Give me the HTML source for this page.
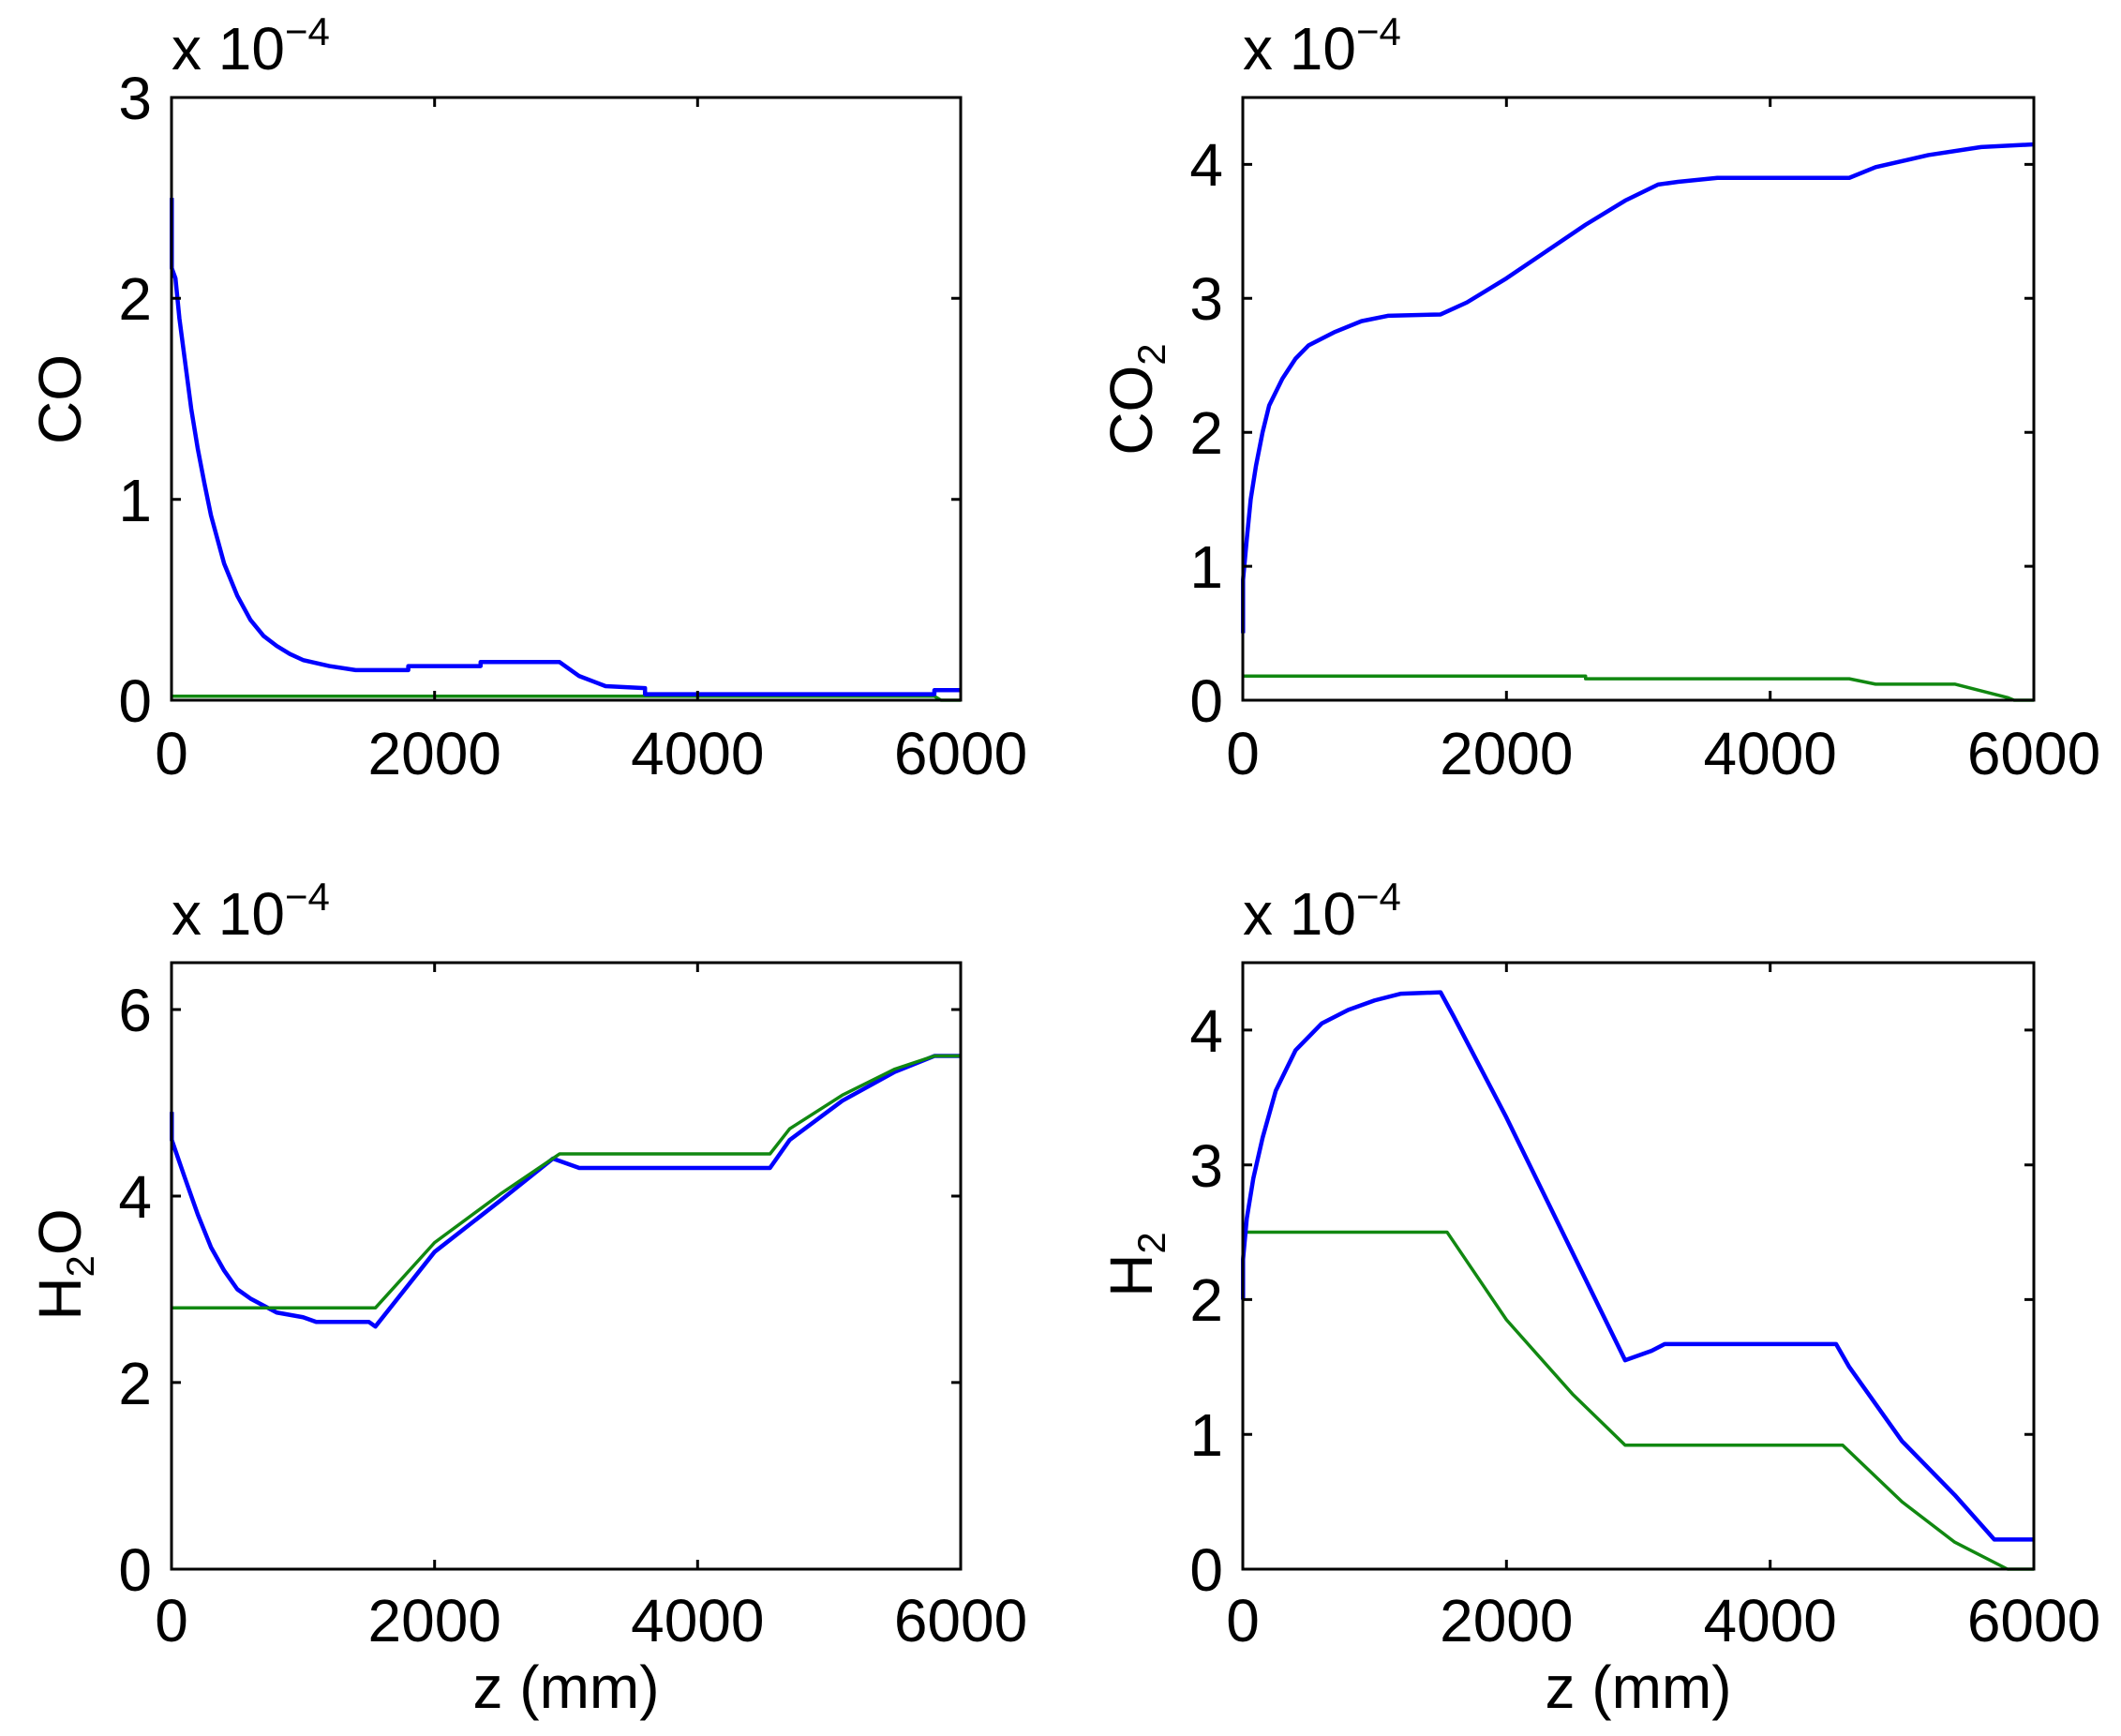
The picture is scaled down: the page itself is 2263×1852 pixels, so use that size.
<!DOCTYPE html>
<html><head><meta charset="utf-8"><style>
html,body{margin:0;padding:0;background:#fff;}
svg{display:block;}
text{font-family:"Liberation Sans",Arial,sans-serif;fill:#000;}
.t{font-size:64px;}
.ln{fill:none;stroke-width:4;vector-effect:non-scaling-stroke;stroke-linejoin:round;}
.b{stroke:#0000ff;stroke-width:4.5;} .g{stroke:#118811;stroke-width:3.5;}
.ax{fill:none;stroke:#000;stroke-width:3;}
</style></head><body>
<svg width="2263" height="1852" viewBox="0 0 2263 1852" xmlns="http://www.w3.org/2000/svg">

<g>
<g transform="translate(183,747) scale(0.140333,-214.333)">
<polyline class="ln g" points="0,0.02 5800,0.02 5850,0 6000,0"/>
<polyline class="ln b" points="2,2.5 2,2.15 30,2.1 60,1.9 100,1.7 150,1.45 200,1.25 250,1.08 300,0.92 350,0.8 400,0.68 450,0.6 500,0.52 600,0.4 700,0.32 800,0.27 900,0.23 1000,0.2 1200,0.17 1400,0.15 1800,0.15 1800,0.17 2350,0.17 2350,0.19 2950,0.19 3100,0.12 3300,0.07 3600,0.06 3600,0.03 5800,0.03 5800,0.05 6000,0.05"/>
</g>
<rect class="ax" x="183" y="104" width="842" height="643"/>
<path class="ax" d="M463.7,747v-10M744.3,747v-10M463.7,104v10M744.3,104v10M183,532.7h10M183,318.3h10M1025,532.7h-10M1025,318.3h-10"/>
<text class="t" x="183" y="826" text-anchor="middle">0</text>
<text class="t" x="463.7" y="826" text-anchor="middle">2000</text>
<text class="t" x="744.3" y="826" text-anchor="middle">4000</text>
<text class="t" x="1025" y="826" text-anchor="middle">6000</text>
<text class="t" x="162" y="770" text-anchor="end">0</text>
<text class="t" x="162" y="556" text-anchor="end">1</text>
<text class="t" x="162" y="341" text-anchor="end">2</text>
<text class="t" x="162" y="127" text-anchor="end">3</text>
<text class="t" x="183" y="74">x 10<tspan font-size="42" dy="-26">−4</tspan></text>
<text class="t" transform="translate(86,426) rotate(-90)" text-anchor="middle">CO</text>
</g>

<g>
<g transform="translate(1326,747) scale(0.140667,-142.889)">
<polyline class="ln g" points="0,0.18 2600,0.18 2600,0.16 4600,0.16 4800,0.12 5400,0.12 5800,0.02 5850,0 6000,0"/>
<polyline class="ln b" points="2,0.5 2,0.9 30,1.2 60,1.5 100,1.75 150,2.0 200,2.2 300,2.4 400,2.55 500,2.65 700,2.75 900,2.83 1100,2.87 1500,2.88 1700,2.97 2000,3.15 2300,3.35 2600,3.55 2900,3.73 3150,3.85 3300,3.87 3600,3.9 4600,3.9 4800,3.98 5200,4.07 5600,4.13 6000,4.15"/>
</g>
<rect class="ax" x="1326" y="104" width="844" height="643"/>
<path class="ax" d="M1607.3,747v-10M1888.7,747v-10M1607.3,104v10M1888.7,104v10M1326,604.1h10M1326,461.2h10M1326,318.3h10M1326,175.4h10M2170,604.1h-10M2170,461.2h-10M2170,318.3h-10M2170,175.4h-10"/>
<text class="t" x="1326" y="826" text-anchor="middle">0</text>
<text class="t" x="1607.3" y="826" text-anchor="middle">2000</text>
<text class="t" x="1888.7" y="826" text-anchor="middle">4000</text>
<text class="t" x="2170" y="826" text-anchor="middle">6000</text>
<text class="t" x="1305" y="770" text-anchor="end">0</text>
<text class="t" x="1305" y="627" text-anchor="end">1</text>
<text class="t" x="1305" y="484" text-anchor="end">2</text>
<text class="t" x="1305" y="341" text-anchor="end">3</text>
<text class="t" x="1305" y="198" text-anchor="end">4</text>
<text class="t" x="1326" y="74">x 10<tspan font-size="42" dy="-26">−4</tspan></text>
<text class="t" transform="translate(1229,426) rotate(-90)" text-anchor="middle">CO<tspan font-size="42" dy="14">2</tspan></text>
</g>

<g>
<g transform="translate(183,1674) scale(0.140333,-99.538)">
<polyline class="ln b" points="2,4.9 2,4.6 100,4.2 200,3.8 300,3.45 400,3.2 500,3.0 600,2.9 800,2.75 1000,2.7 1100,2.65 1500,2.65 1550,2.6 2000,3.4 2500,3.95 2900,4.4 3100,4.3 4550,4.3 4700,4.6 5100,5.02 5500,5.33 5800,5.5 6000,5.5"/>
<polyline class="ln g" points="0,2.8 1550,2.8 2000,3.5 2500,4.02 2950,4.45 4550,4.45 4700,4.72 5100,5.08 5500,5.36 5800,5.5 6000,5.5"/>
</g>
<rect class="ax" x="183" y="1027" width="842" height="647"/>
<path class="ax" d="M463.7,1674v-10M744.3,1674v-10M463.7,1027v10M744.3,1027v10M183,1474.9h10M183,1276h10M183,1077h10M1025,1474.9h-10M1025,1276h-10M1025,1077h-10"/>
<text class="t" x="183" y="1751" text-anchor="middle">0</text>
<text class="t" x="463.7" y="1751" text-anchor="middle">2000</text>
<text class="t" x="744.3" y="1751" text-anchor="middle">4000</text>
<text class="t" x="1025" y="1751" text-anchor="middle">6000</text>
<text class="t" x="162" y="1697" text-anchor="end">0</text>
<text class="t" x="162" y="1498" text-anchor="end">2</text>
<text class="t" x="162" y="1299" text-anchor="end">4</text>
<text class="t" x="162" y="1100" text-anchor="end">6</text>
<text class="t" x="183" y="997">x 10<tspan font-size="42" dy="-26">−4</tspan></text>
<text class="t" transform="translate(86,1349) rotate(-90)" text-anchor="middle">H<tspan font-size="42" dy="14">2</tspan><tspan dy="-14">O</tspan></text>
<text class="t" x="604" y="1822" text-anchor="middle">z (mm)</text>
</g>

<g>
<g transform="translate(1326,1674) scale(0.140667,-143.778)">
<polyline class="ln g" points="0,2.5 1550,2.5 2000,1.85 2500,1.3 2900,0.92 4550,0.92 5000,0.5 5400,0.2 5800,0 6000,0"/>
<polyline class="ln b" points="2,2.0 2,2.3 30,2.6 80,2.9 150,3.2 250,3.55 400,3.85 600,4.05 800,4.15 1000,4.22 1200,4.27 1500,4.28 1600,4.1 2000,3.35 2500,2.35 2900,1.55 3100,1.62 3200,1.67 4500,1.67 4600,1.5 5000,0.95 5400,0.55 5700,0.22 6000,0.22"/>
</g>
<rect class="ax" x="1326" y="1027" width="844" height="647"/>
<path class="ax" d="M1607.3,1674v-10M1888.7,1674v-10M1607.3,1027v10M1888.7,1027v10M1326,1530.2h10M1326,1386.4h10M1326,1242.7h10M1326,1098.9h10M2170,1530.2h-10M2170,1386.4h-10M2170,1242.7h-10M2170,1098.9h-10"/>
<text class="t" x="1326" y="1751" text-anchor="middle">0</text>
<text class="t" x="1607.3" y="1751" text-anchor="middle">2000</text>
<text class="t" x="1888.7" y="1751" text-anchor="middle">4000</text>
<text class="t" x="2170" y="1751" text-anchor="middle">6000</text>
<text class="t" x="1305" y="1697" text-anchor="end">0</text>
<text class="t" x="1305" y="1553" text-anchor="end">1</text>
<text class="t" x="1305" y="1409" text-anchor="end">2</text>
<text class="t" x="1305" y="1266" text-anchor="end">3</text>
<text class="t" x="1305" y="1122" text-anchor="end">4</text>
<text class="t" x="1326" y="997">x 10<tspan font-size="42" dy="-26">−4</tspan></text>
<text class="t" transform="translate(1229,1349) rotate(-90)" text-anchor="middle">H<tspan font-size="42" dy="14">2</tspan></text>
<text class="t" x="1748" y="1822" text-anchor="middle">z (mm)</text>
</g>
</svg>
</body></html>
